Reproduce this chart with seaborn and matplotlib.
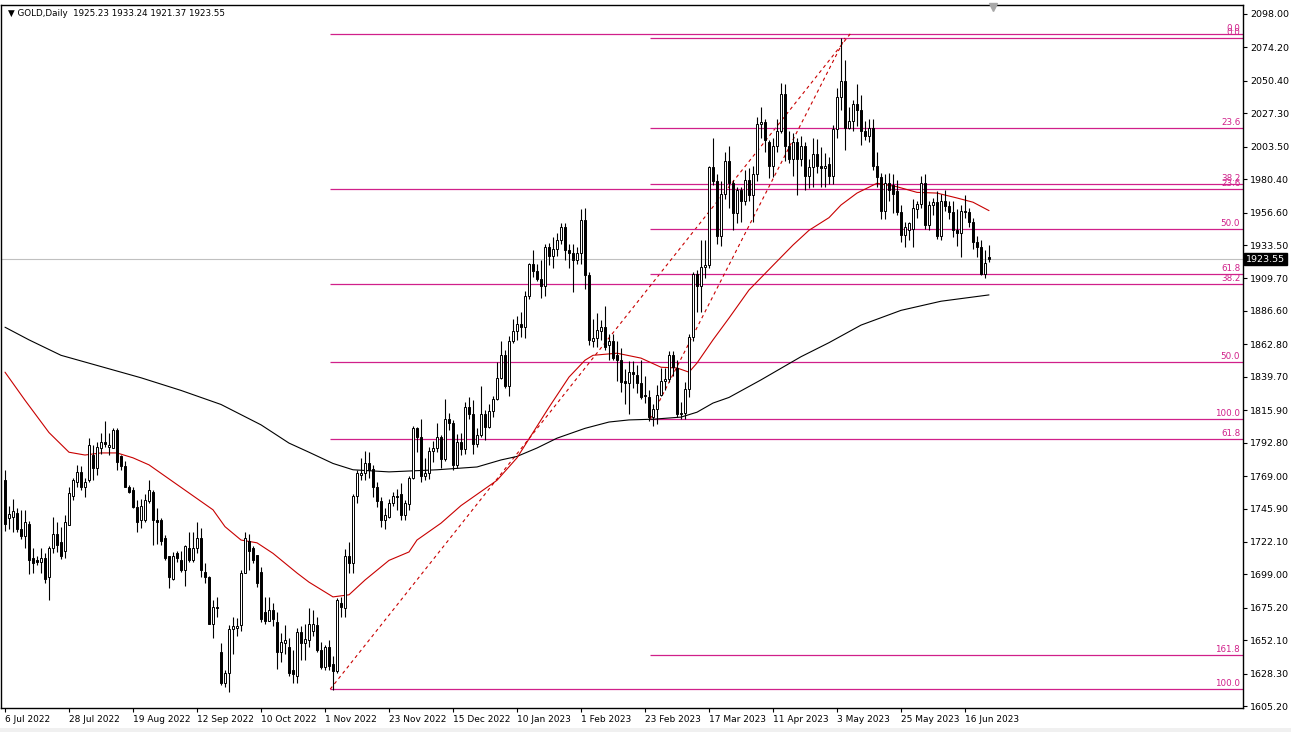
import numpy as np
import pandas as pd
import matplotlib
matplotlib.use("Agg")
import matplotlib.pyplot as plt
from matplotlib.patches import Rectangle
import seaborn as sns

# ---------------- data ----------------
opens = [1766,1739,1740,1743,1731,1726,1735,1711,1709,1708,1711,1697,1718,1728,1722,1716,1734,1755,1765,1772,
         1761,1766,1784,1775,1789,1793,1790,1789,1802,1783,1776,1761,1759,1747,1738,1738,1751,1758,1738,1738,
         1725,1712,1696,1714,1709,1702,1718,1709,1718,1725,1701,1697,1664,1676,1644,1622,1629,1660,1661,1663,
         1700,1723,1718,1713,1701,1672,1666,1674,1665,1644,1650,1647,1631,1627,1658,1650,1652,1659,1663,1645,
         1633,1647,1635,1630,1679,1675,1712,1707,1755,1770,1771,1778,1774,1761,1751,1738,1740,1750,1755,1756,
         1741,1749,1768,1803,1797,1769,1771,1787,1789,1797,1781,1810,1807,1777,1793,1788,1818,1813,1792,1798,
         1813,1804,1815,1824,1839,1855,1833,1865,1872,1877,1875,1897,1920,1915,1909,1904,1932,1926,1931,1937,
         1946,1930,1928,1923,1928,1951,1912,1865,1867,1872,1875,1862,1865,1855,1852,1837,1835,1843,1841,1835,
         1827,1825,1811,1817,1827,1837,1838,1855,1846,1813,1814,1831,1868,1913,1904,1918,1919,1989,1979,1940,
         1970,1993,1978,1956,1973,1965,1980,1969,1984,2020,2021,2007,1990,2004,2015,2041,2004,1995,2007,1995,
         2004,1983,1989,1998,1990,1988,1991,1983,2016,2039,2050,2017,2022,2034,2030,2015,2011,2017,1990,1982,
         1958,1978,1976,1972,1957,1941,1944,1945,1959,1963,1978,1948,1962,1964,1940,1965,1961,1957,1944,1942,
         1958,1957,1950,1936,1932,1913,1925.23]
highs = [1773,1748,1753,1746,1745,1745,1737,1718,1712,1718,1714,1719,1740,1736,1733,1741,1761,1768,1777,1776,
         1768,1796,1791,1793,1800,1808,1800,1803,1803,1784,1780,1763,1761,1752,1753,1756,1766,1759,1746,1739,
         1727,1712,1715,1716,1716,1720,1729,1729,1736,1732,1707,1698,1681,1683,1650,1631,1663,1669,1668,1702,
         1729,1728,1719,1713,1704,1683,1683,1679,1672,1657,1663,1654,1645,1661,1662,1664,1675,1674,1669,1651,
         1649,1652,1641,1682,1683,1717,1722,1756,1773,1782,1787,1786,1777,1765,1754,1746,1753,1758,1760,1764,
         1752,1769,1805,1804,1810,1782,1790,1794,1807,1798,1824,1814,1809,1799,1800,1822,1825,1823,1803,1833,
         1816,1820,1826,1850,1865,1859,1869,1881,1883,1886,1901,1921,1930,1920,1923,1934,1935,1939,1942,1949,
         1949,1934,1934,1932,1959,1960,1914,1881,1885,1880,1890,1870,1870,1865,1860,1845,1851,1851,1848,1852,
         1840,1830,1820,1834,1846,1846,1858,1858,1852,1822,1836,1870,1914,1916,1937,1937,1990,2010,1984,1979,
         2000,2004,1980,1975,1975,1987,1988,1990,2025,2032,2023,2008,2010,2023,2049,2048,2015,2013,2010,2011,
         2007,1995,2010,2009,2003,1999,1996,2019,2045,2081,2065,2032,2037,2048,2040,2022,2023,2023,2000,1985,
         1984,1985,1984,1980,1962,1950,1950,1966,1965,1983,1984,1965,1967,1972,1970,1973,1965,1965,1959,1962,
         1969,1960,1953,1940,1937,1930,1933.24]
lows = [1730,1731,1729,1729,1724,1718,1699,1700,1706,1700,1693,1681,1714,1715,1710,1711,1734,1752,1761,1759,
        1754,1765,1766,1770,1785,1790,1784,1789,1773,1773,1761,1757,1746,1729,1732,1736,1750,1720,1721,1720,
        1709,1689,1695,1708,1701,1691,1708,1708,1714,1697,1693,1664,1654,1669,1620,1619,1615,1642,1655,1659,
        1700,1702,1707,1690,1665,1664,1666,1662,1632,1637,1642,1627,1622,1622,1638,1638,1647,1655,1644,1632,
        1631,1631,1617,1629,1669,1669,1700,1700,1750,1766,1766,1768,1754,1747,1733,1731,1739,1748,1745,1738,
        1738,1745,1767,1786,1765,1766,1767,1779,1786,1775,1780,1802,1773,1775,1784,1785,1810,1785,1790,1797,
        1795,1803,1811,1823,1838,1832,1826,1864,1866,1868,1867,1895,1911,1908,1896,1897,1919,1917,1926,1934,
        1923,1917,1900,1920,1920,1902,1862,1861,1861,1866,1859,1852,1852,1837,1829,1820,1813,1832,1828,1824,
        1821,1808,1805,1806,1826,1830,1836,1840,1811,1810,1810,1825,1865,1886,1886,1910,1917,1976,1934,1933,
        1966,1960,1944,1949,1950,1962,1965,1950,1979,2010,2000,1981,1982,2000,2013,1993,1992,1983,1969,1990,
        1973,1974,1975,1985,1975,1975,1977,1977,2010,2030,2001,2016,2015,2018,2005,2008,2007,1987,1975,1952,
        1952,1965,1956,1955,1936,1932,1937,1932,1953,1960,1945,1944,1955,1938,1937,1958,1952,1939,1933,1925,
        1953,1946,1931,1925,1912,1910,1921.37]
closes = [1735,1742,1744,1731,1726,1736,1709,1707,1708,1711,1696,1718,1728,1720,1712,1736,1757,1766,1772,1761,
          1765,1791,1775,1790,1793,1792,1791,1802,1779,1776,1761,1758,1747,1736,1748,1752,1759,1738,1736,1723,
          1711,1697,1712,1711,1702,1719,1709,1718,1725,1702,1697,1664,1676,1675,1622,1629,1660,1662,1662,1700,
          1725,1716,1709,1693,1667,1666,1674,1667,1644,1651,1652,1629,1628,1658,1650,1653,1664,1664,1645,1633,
          1647,1634,1630,1681,1676,1712,1707,1755,1771,1771,1778,1773,1761,1751,1738,1741,1750,1755,1754,1741,
          1750,1768,1803,1797,1769,1771,1787,1789,1797,1781,1810,1807,1777,1793,1788,1818,1813,1792,1798,1813,
          1804,1815,1824,1839,1855,1833,1865,1872,1877,1875,1897,1920,1915,1909,1904,1932,1926,1931,1937,1946,
          1930,1928,1923,1928,1951,1912,1866,1867,1873,1875,1861,1865,1853,1852,1836,1835,1843,1842,1835,1825,
          1826,1811,1817,1827,1837,1838,1855,1847,1813,1814,1831,1868,1913,1904,1918,1919,1989,1979,1940,1970,
          1993,1978,1956,1973,1965,1980,1969,1984,2020,2021,2008,1990,2004,2015,2041,2004,1995,2007,1995,2004,
          1983,1989,1998,1990,1988,1990,1983,2016,2039,2050,2017,2022,2034,2030,2015,2011,2017,1990,1982,1958,
          1978,1973,1970,1957,1941,1946,1949,1960,1963,1978,1948,1962,1964,1940,1965,1961,1957,1944,1942,1958,
          1957,1950,1936,1932,1913,1921,1923.55]

# moving averages read at sample bars
ma_red_bar = [0,5,11,16,20,24,28,32,36,43,48,52,55,59,63,67,70,73,76,82,86,90,96,101,103,109,114,119,123,128,
              132,136,141,145,147,153,159,164,168,171,173,177,181,186,192,197,201,206,209,213,218,223,228,233,238,242,246]
ma_red_val = [1843,1823,1800,1786,1784,1785.5,1785.5,1782,1777,1763,1753,1745,1733,1723.5,1721.5,1714,1707,1700,
              1693.5,1683,1684.5,1695,1709,1715,1723.5,1735.5,1748,1758,1766,1782,1800,1818,1839.5,1851.5,1855,
              1856.5,1853,1846.5,1846,1843,1849.5,1866,1881.5,1901.5,1919,1933.5,1944,1953,1962,1970.5,1977.5,
              1975,1971,1970.5,1967,1964,1958]
ma_black_bar = [0,6,14,24,34,44,54,64,71,76,82,87,96,108,118,124,128,133,138,145,151,156,162,169,173,177,181,
                189,199,206,214,224,234,246]
ma_black_val = [1875,1866,1855,1847,1839,1830,1820,1805.5,1792.5,1786,1778,1773.5,1772,1773.5,1775.5,1780.5,1783,
                1789,1796,1803,1807.5,1809,1809.5,1811,1814.5,1821,1825,1837.5,1854,1864,1876.5,1887,1893.5,1898]

# Fibonacci tools: (start bar, end bar, low, high)
fib_a = (81.3, 211.3, 1617.3, 2083.8)
fib_b = (161.3, 210.0, 1809.6, 2080.9)
fib_a_levels = [0.0, 23.6, 38.2, 50.0, 61.8, 100.0]
fib_b_levels = [0.0, 23.6, 38.2, 50.0, 61.8, 100.0, 161.8]

price_ticks = [2098.00, 2074.20, 2050.40, 2027.30, 2003.50, 1980.40, 1956.60, 1933.50, 1909.70, 1886.60,
               1862.80, 1839.70, 1815.90, 1792.80, 1769.00, 1745.90, 1722.10, 1699.00, 1675.20, 1652.10,
               1628.30, 1605.20]
date_tick_bars = list(range(0, 241, 16))
date_labels = ["6 Jul 2022", "28 Jul 2022", "19 Aug 2022", "12 Sep 2022", "10 Oct 2022", "1 Nov 2022",
               "23 Nov 2022", "15 Dec 2022", "10 Jan 2023", "1 Feb 2023", "23 Feb 2023", "17 Mar 2023",
               "11 Apr 2023", "3 May 2023", "25 May 2023", "16 Jun 2023"]

# ---------------- styling ----------------
sns.set_style("white")
plt.rcParams['font.family'] = ['DejaVu Sans']

W, H = 1291, 732
fig = plt.figure(figsize=(W / 100, H / 100), dpi=100)
fig.patch.set_facecolor("white")
ax = fig.add_axes([1 / W, 24 / H, 1242 / W, 703 / H])
ax.set_facecolor("white")

df = pd.DataFrame({"o": opens, "h": highs, "l": lows, "c": closes})
df["bar"] = np.arange(len(df))

FIB = "#D0208A"
RED = "#C80000"

# current price line
last = df.iloc[-1]
ax.axhline(last.c, color="#C0C0C0", lw=0.8, zorder=1)

# fibonacci levels
for (x0, x1, lo, hi), levels in [(fib_a, fib_a_levels), (fib_b, fib_b_levels)]:
    for lv in levels:
        p = hi - lv / 100.0 * (hi - lo)
        ax.hlines(p, x0, 309.5, color=FIB, lw=0.9, zorder=2)
        ax.text(308.8, p + 0.6, f"{lv:.1f}", color=FIB, fontsize=6.3, ha="right", va="bottom", zorder=6)
    ax.plot([x0, x1], [lo, hi], color=RED, lw=0.8, ls=(0, (3, 3)), zorder=2)

# moving averages
sns.lineplot(x=ma_black_bar, y=ma_black_val, ax=ax, color="black", lw=0.8, zorder=3)
sns.lineplot(x=ma_red_bar, y=ma_red_val, ax=ax, color=RED, lw=0.8, zorder=3)

# candles
ax.vlines(df.bar, df.l, df.h, color="black", lw=0.8, zorder=4)
up = df.c >= df.o
bot = np.minimum(df.o, df.c)
hgt = np.maximum(np.abs(df.c - df.o), 0.4)
ax.bar(df.bar[up], hgt[up], bottom=bot[up], width=0.72, color="white", edgecolor="black", lw=0.7, zorder=5)
ax.bar(df.bar[~up], hgt[~up], bottom=bot[~up], width=0.72, color="black", edgecolor="black", lw=0.7, zorder=5)

# axes
ax.set_xlim(-1, 309.5)
ax.set_ylim(1603.9, 2104.4)
ax.yaxis.tick_right()
ax.set_yticks(price_ticks)
ax.set_yticklabels([f"{v:.2f}" for v in price_ticks])
ax.set_xticks(date_tick_bars)
ax.set_xticklabels(date_labels, ha="left")
ax.tick_params(axis="y", direction="out", length=3, width=0.8, labelsize=6.8, pad=2, colors="black", right=True)
ax.tick_params(axis="x", direction="out", length=3, width=0.8, labelsize=6.5, pad=2, colors="black", bottom=True)
for s in ax.spines.values():
    s.set_color("black")
    s.set_linewidth(1.0)
ax.set_xlabel("")
ax.set_ylabel("")

# current price box
ax.annotate(f"{last.c:.2f}", xy=(1.0, last.c), xycoords=("axes fraction", "data"),
            xytext=(2, 0), textcoords="offset points", fontsize=6.8, color="white", va="center", ha="left",
            bbox=dict(boxstyle="square,pad=0.2", fc="black", ec="black"), zorder=10, annotation_clip=False)

# chart shift marker
ax.plot([247], [2103.2], marker="v", color="#A8A8A8", ms=6, clip_on=False, zorder=7)

# header
fig.text(8 / W, 1 - 13 / H,
         f"\u25BC GOLD,Daily  {last.o:.2f} {last.h:.2f} {last.l:.2f} {last.c:.2f}",
         fontsize=6.3, va="center", ha="left", color="black")

# window bottom strip
fig.patches.append(Rectangle((0, 0), 1, 4 / H, transform=fig.transFigure, fc="#F0F0F0", ec="none"))

fig.savefig("out.png", dpi=100, facecolor="white")
